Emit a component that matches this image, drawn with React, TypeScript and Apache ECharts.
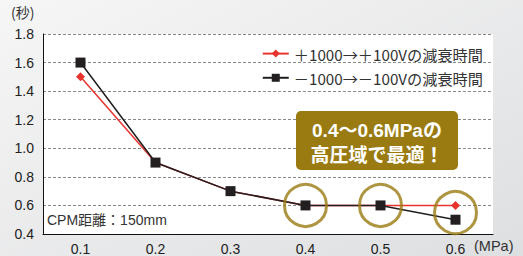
import React, { useEffect, useRef } from "react";
import * as echarts from "echarts";

const categories = ["0.1", "0.2", "0.3", "0.4", "0.5", "0.6"];
const plusSeries = [1.5, 0.9, 0.7, 0.6, 0.6, 0.6];
const minusSeries = [1.6, 0.9, 0.7, 0.6, 0.6, 0.5];
const highlightPoints: [string, number][] = [
  ["0.4", 0.6],
  ["0.5", 0.6],
  ["0.6", 0.55],
];
const plusName = "＋1000→＋100Vの減衰時間";
const minusName = "－1000→－100Vの減衰時間";

const FONT = "'Liberation Sans', 'Noto Sans CJK JP', sans-serif";
const CJK = "'Noto Sans CJK JP', 'Liberation Sans', sans-serif";
const OLIVE = "#9a7b12";

export default function App() {
  const ref = useRef<HTMLDivElement>(null);
  useEffect(() => {
    document.body.style.margin = "0";
    const chart = echarts.init(ref.current!, null, { renderer: "svg" });
    chart.setOption({
      animation: false,
      backgroundColor: new echarts.graphic.LinearGradient(0, 0, 1, 1, [
        { offset: 0, color: "#f6f6f6" },
        { offset: 1, color: "#dedfe1" },
      ]),
      textStyle: { fontFamily: FONT },
      grid: {
        left: 43,
        right: 30,
        top: 34,
        bottom: 21.5,
        show: true,
        backgroundColor: "#ffffff",
        borderWidth: 0,
      },
      legend: {
        orient: "vertical",
        right: 35,
        top: 41,
        itemGap: 9,
        itemWidth: 26,
        itemHeight: 10,
        textStyle: { fontFamily: CJK, fontSize: 15.2, color: "#333" },
        data: [plusName, minusName],
      },
      xAxis: {
        type: "category",
        data: categories,
        boundaryGap: true,
        axisLine: { lineStyle: { color: "#111", width: 1 } },
        axisTick: { inside: true, length: 4, lineStyle: { color: "#111" } },
        axisLabel: { fontSize: 14, color: "#222", margin: 8, fontFamily: FONT },
      },
      yAxis: {
        type: "value",
        min: 0.4,
        max: 1.8,
        interval: 0.2,
        axisLine: { show: true, lineStyle: { color: "#111", width: 1 } },
        axisTick: { show: false },
        axisLabel: {
          fontSize: 14,
          color: "#222",
          margin: 9,
          fontFamily: FONT,
          formatter: (v: number) => v.toFixed(1),
        },
        splitLine: { lineStyle: { color: "#888", type: [3, 2], width: 1 } },
      },
      series: [
        {
          name: plusName,
          type: "line",
          data: plusSeries,
          symbol: "diamond",
          symbolSize: 9,
          color: "#e8342f",
          lineStyle: { width: 1.5, color: "#e8342f" },
          itemStyle: { color: "#e8342f" },
          z: 2,
        },
        {
          name: minusName,
          type: "line",
          data: minusSeries,
          symbol: "rect",
          symbolSize: 10,
          color: "#231f20",
          lineStyle: { width: 1.5, color: "#231f20" },
          itemStyle: { color: "#231f20" },
          z: 3,
        },
        {
          name: "highlight",
          type: "scatter",
          data: highlightPoints,
          symbol: "circle",
          symbolSize: 42,
          silent: true,
          itemStyle: { color: "rgba(0,0,0,0)", borderColor: OLIVE, borderWidth: 3 },
          z: 4,
        },
      ],
      graphic: [
        {
          type: "text",
          left: 11,
          top: 5,
          style: { text: "(秒)", fontSize: 14, fill: "#333", fontFamily: CJK },
        },
        {
          type: "text",
          left: 474,
          top: 239,
          style: { text: "(MPa)", fontSize: 14.5, fill: "#333", fontFamily: FONT },
        },
        {
          type: "text",
          left: 47,
          top: 213,
          style: { text: "CPM距離：150mm", fontSize: 14, fill: "#333", fontFamily: FONT },
        },
        {
          type: "rect",
          shape: { x: 296, y: 111, width: 162, height: 59, r: 5 },
          style: { fill: OLIVE },
          z: 10,
        },
        {
          type: "text",
          x: 377,
          y: 130,
          style: {
            text: "0.4～0.6MPaの",
            fontSize: 19,
            fontWeight: "bold",
            fill: "#fff",
            align: "center",
            verticalAlign: "middle",
            fontFamily: FONT,
          },
          z: 11,
        },
        {
          type: "text",
          x: 377,
          y: 153,
          style: {
            text: "高圧域で最適！",
            fontSize: 19,
            fontWeight: "bold",
            fill: "#fff",
            align: "center",
            verticalAlign: "middle",
            fontFamily: CJK,
          },
          z: 11,
        },
      ],
    });
    return () => chart.dispose();
  }, []);
  return <div ref={ref} style={{ width: 523, height: 256 }} />;
}
